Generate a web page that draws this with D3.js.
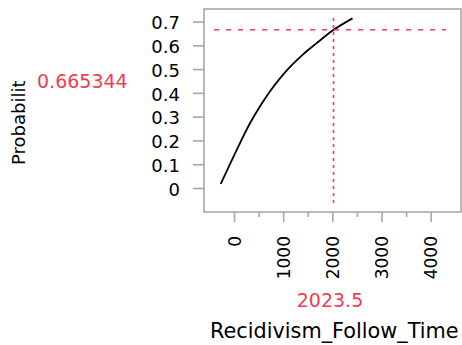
<!DOCTYPE html>
<html>
<head>
<meta charset="utf-8">
<script src="https://cdn.jsdelivr.net/npm/d3@7"></script>
<style>
  body { margin: 0; background: #fff; }
  text { font-family: "DejaVu Sans", sans-serif; }
</style>
</head>
<body>
<div id="chart"></div>
<script>
// curve
const followTime = [-270, 120, 325, 530, 730, 935, 1140, 1410, 1680, 2020, 2410];
const probability = [0.017, 0.188, 0.272, 0.344, 0.406, 0.461, 0.509, 0.563, 0.609, 0.664, 0.713];
const xTicks = [0, 1000, 2000, 3000, 4000];
const xMinorTicks = [500, 1500, 2500, 3500];
const yTicks = [0, 0.1, 0.2, 0.3, 0.4, 0.5, 0.6, 0.7];
const crossX = 2023.5;
const crossY = 0.665344;

const W = 462, H = 345;
const frame = { left: 204, top: 9, right: 461, bottom: 212 };
const grey = "#a8a8a8", red = "#ef3d54";

const svg = d3.select("#chart").append("svg")
  .attr("width", W).attr("height", H);

const x = d3.scaleLinear().domain([0, 4000]).range([234, 430.7]);
const y = d3.scaleLinear().domain([0, 0.7]).range([188, 21.5]);

// frame
svg.append("rect")
  .attr("x", frame.left).attr("y", frame.top)
  .attr("width", frame.right - frame.left).attr("height", frame.bottom - frame.top)
  .attr("fill", "none").attr("stroke", grey).attr("stroke-width", 1.6);

// y axis
const yAxis = svg.append("g").attr("transform", `translate(${frame.left},0)`)
  .call(d3.axisLeft(y).tickValues(yTicks).tickSize(11).tickPadding(13)
    .tickFormat(d => d === 0 ? "0" : d3.format(".1f")(d)));
yAxis.select(".domain").remove();
yAxis.selectAll(".tick line").attr("stroke", grey).attr("stroke-width", 1.6);
yAxis.selectAll(".tick text").attr("font-size", 18).attr("fill", "#000")
  .attr("font-family", "DejaVu Sans").attr("dy", "0.4em");

// x axis, minor ticks
svg.append("g").attr("transform", `translate(0,${frame.bottom})`)
  .call(d3.axisBottom(x).tickValues(xMinorTicks).tickSize(5).tickFormat(""))
  .call(g => g.select(".domain").remove())
  .selectAll(".tick line").attr("stroke", grey).attr("stroke-width", 1.6);

// x axis, major ticks
const xAxis = svg.append("g").attr("transform", `translate(0,${frame.bottom})`)
  .call(d3.axisBottom(x).tickValues(xTicks).tickSize(10).tickFormat(d3.format("d")));
xAxis.select(".domain").remove();
xAxis.selectAll(".tick line").attr("stroke", grey).attr("stroke-width", 1.6);
xAxis.selectAll(".tick text")
  .attr("font-size", 17).attr("fill", "#000").attr("font-family", "DejaVu Sans")
  .attr("text-anchor", "end")
  .attr("transform", "translate(0,24) rotate(-90)")
  .attr("x", 0).attr("y", 0).attr("dy", "0.36em");

// curve
const line = d3.line().x((d, i) => x(followTime[i])).y(d => y(d)).curve(d3.curveMonotoneX);
svg.append("path")
  .datum(probability)
  .attr("fill", "none").attr("stroke", "#000").attr("stroke-width", 1.8)
  .attr("d", line);

// crosshair
svg.append("line")
  .attr("x1", 214).attr("x2", 446)
  .attr("y1", y(crossY)).attr("y2", y(crossY))
  .attr("stroke", red).attr("stroke-width", 1.6).attr("stroke-dasharray", "5 7");
svg.append("line")
  .attr("x1", x(crossX)).attr("x2", x(crossX))
  .attr("y1", 18).attr("y2", 205)
  .attr("stroke", red).attr("stroke-width", 1.6).attr("stroke-dasharray", "3 4");

// crosshair values
svg.append("text")
  .attr("x", 37).attr("y", 88)
  .attr("font-size", 19).attr("fill", red)
  .text(crossY);
svg.append("text")
  .attr("x", 330).attr("y", 307).attr("text-anchor", "middle")
  .attr("font-size", 19).attr("fill", red)
  .text(crossX);

// axis titles
svg.append("text")
  .attr("transform", "translate(25,165) rotate(-90)")
  .attr("font-size", 18).attr("fill", "#000")
  .text("Probabilit");
svg.append("text")
  .attr("x", 210).attr("y", 338)
  .attr("font-size", 20.8).attr("fill", "#000")
  .text("Recidivism_Follow_Time");
</script>
</body>
</html>
